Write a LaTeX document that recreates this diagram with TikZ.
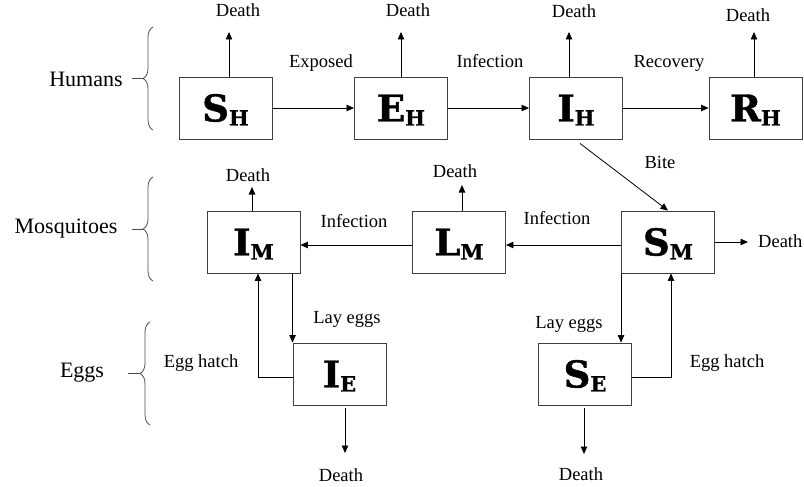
\documentclass[tikz,border=0pt]{standalone}
\usepackage{fontspec}
\setmainfont{Liberation Serif}
\newfontfamily\boxfont{DejaVu Serif}[BoldFeatures={FakeBold=1.2}]
\usetikzlibrary{arrows.meta,decorations.pathreplacing}

\tikzset{
	comp/.style={draw=black!75, line width=0.9pt, minimum width=93pt, minimum height=62pt, inner sep=0pt},
	arr/.style={line width=0.8pt, -{Triangle[length=7.5pt,width=6.5pt]}},
	lbl/.style={font=\fontsize{18.5}{18.5}\selectfont, inner sep=0pt},
	grp/.style={font=\fontsize{22}{22}\selectfont, inner sep=0pt},
	brc/.style={draw=black!70, line width=0.8pt, decorate, decoration={brace,amplitude=10pt}}
}

\newcommand{\cmpt}[2]{{\boxfont\bfseries\fontsize{37}{37}\selectfont #1}\raisebox{-4pt}[0pt][0pt]{\boxfont\bfseries\fontsize{21}{21}\selectfont #2}}

\newcommand{\deathup}[5]{
	\coordinate (t#1) at (#2,#3);
	\draw[arr] (#1.north -| t#1) -- (t#1);
	\node[lbl, anchor=base] (d#1) at (#4,#5) {Death};
}
\newcommand{\deathdown}[5]{
	\coordinate (t#1) at (#2,#3);
	\draw[arr] ([yshift=-3pt]#1.south -| t#1) -- (t#1);
	\node[lbl, anchor=base] (d#1) at (#4,#5) {Death};
}

\begin{document}
\begin{tikzpicture}[x=1pt,y=-1pt]
\useasboundingbox (0,0) rectangle (804,487);

\pgfmathsetmacro{\rowH}{108}
\pgfmathsetmacro{\rowM}{242}
\pgfmathsetmacro{\rowE}{374}

% humans
\node[comp] (SH) at (225.5,\rowH) {\cmpt{S}{H}};
\node[comp] (EH) at (401,\rowH) {\cmpt{E}{H}};
\node[comp] (IH) at (576,\rowH) {\cmpt{I}{H}};
\node[comp] (RH) at (755.5,\rowH) {\cmpt{R}{H}};

% mosquitoes
\node[comp] (IM) at (253.5,\rowM) {\cmpt{I}{M}};
\node[comp] (LM) at (459,\rowM) {\cmpt{L}{M}};
\node[comp] (SM) at (668,\rowM) {\cmpt{S}{M}};

% eggs
\node[comp] (IE) at (339.5,\rowE) {\cmpt{I}{E}};
\node[comp] (SE) at (585,\rowE) {\cmpt{S}{E}};

\draw[arr] (SH.east) -- (SH.east -| EH.west);
\draw[arr] (EH.east) -- (EH.east -| IH.west);
\draw[arr] (IH.east) -- (IH.east -| RH.west);
\node[lbl, anchor=base] (lExp) at (321,68) {Exposed};
\node[lbl, anchor=base] (lInfH) at (490,68) {Infection};
\node[lbl, anchor=base] (lRec) at (669,68) {Recovery};

\deathup{SH}{229}{32}{238}{17}
\deathup{EH}{401}{32}{408}{17}
\deathup{IH}{569}{32}{574}{18}
\deathup{RH}{754}{32}{748}{22}
\deathup{IM}{252}{187}{248}{181}
\deathup{LM}{462}{185}{455}{177}
\deathdown{IE}{345}{453}{341}{481}
\deathdown{SE}{584}{454}{581}{480}

\coordinate (tSM) at (748,\rowM);
\draw[arr] (SM.east) -- (tSM);
\node[lbl, anchor=base west] (dSM) at (758,247) {Death};

\draw[arr] ([xshift=4pt,yshift=-4pt]IH.south) -- (SM.north);
\node[lbl, anchor=base] (lBite) at (660,168) {Bite};

\draw[arr] ([yshift=-3pt]SM.west) -- ([yshift=-3pt]LM.east);
\draw[arr] ([yshift=-3pt]LM.west) -- ([yshift=-3pt]IM.east);
\node[lbl, anchor=base] (lInfR) at (557,224) {Infection};
\node[lbl, anchor=base] (lInfL) at (354,227) {Infection};

\draw[arr] (IM.south -| IE.west) -- (IE.north west);
\draw[arr] ([yshift=-3pt]IE.west) -| ([xshift=4.5pt]IM.south);
\node[lbl, anchor=base] (lLayL) at (347,323) {Lay eggs};
\node[lbl, anchor=base] (lHatL) at (201,367) {Egg hatch};

\draw[arr] (SM.south west) -- (SM.south west |- SE.north);
\draw[arr] ([yshift=-3pt]SE.east) -| ([xshift=3pt]SM.south);
\node[lbl, anchor=base] (lLayR) at (569,328) {Lay eggs};
\node[lbl, anchor=base] (lHatR) at (727,367) {Egg hatch};

% groups
\draw[brc] (153,130) -- (153,27);
\draw[draw=black!70, line width=0.8pt] (143,78.5) -- (132,78.5);
\node[grp, anchor=base] (gH) at (86,87) {Humans};

\draw[brc] (153,281) -- (153,177);
\draw[draw=black!70, line width=0.8pt] (143,229) -- (132,229);
\node[grp, anchor=base] (gM) at (66,233) {Mosquitoes};

\draw[brc] (150,425) -- (150,322);
\draw[draw=black!70, line width=0.8pt] (140,373.5) -- (128,373.5);
\node[grp, anchor=base] (gE) at (82,377) {Eggs};
\end{tikzpicture}
\end{document}
